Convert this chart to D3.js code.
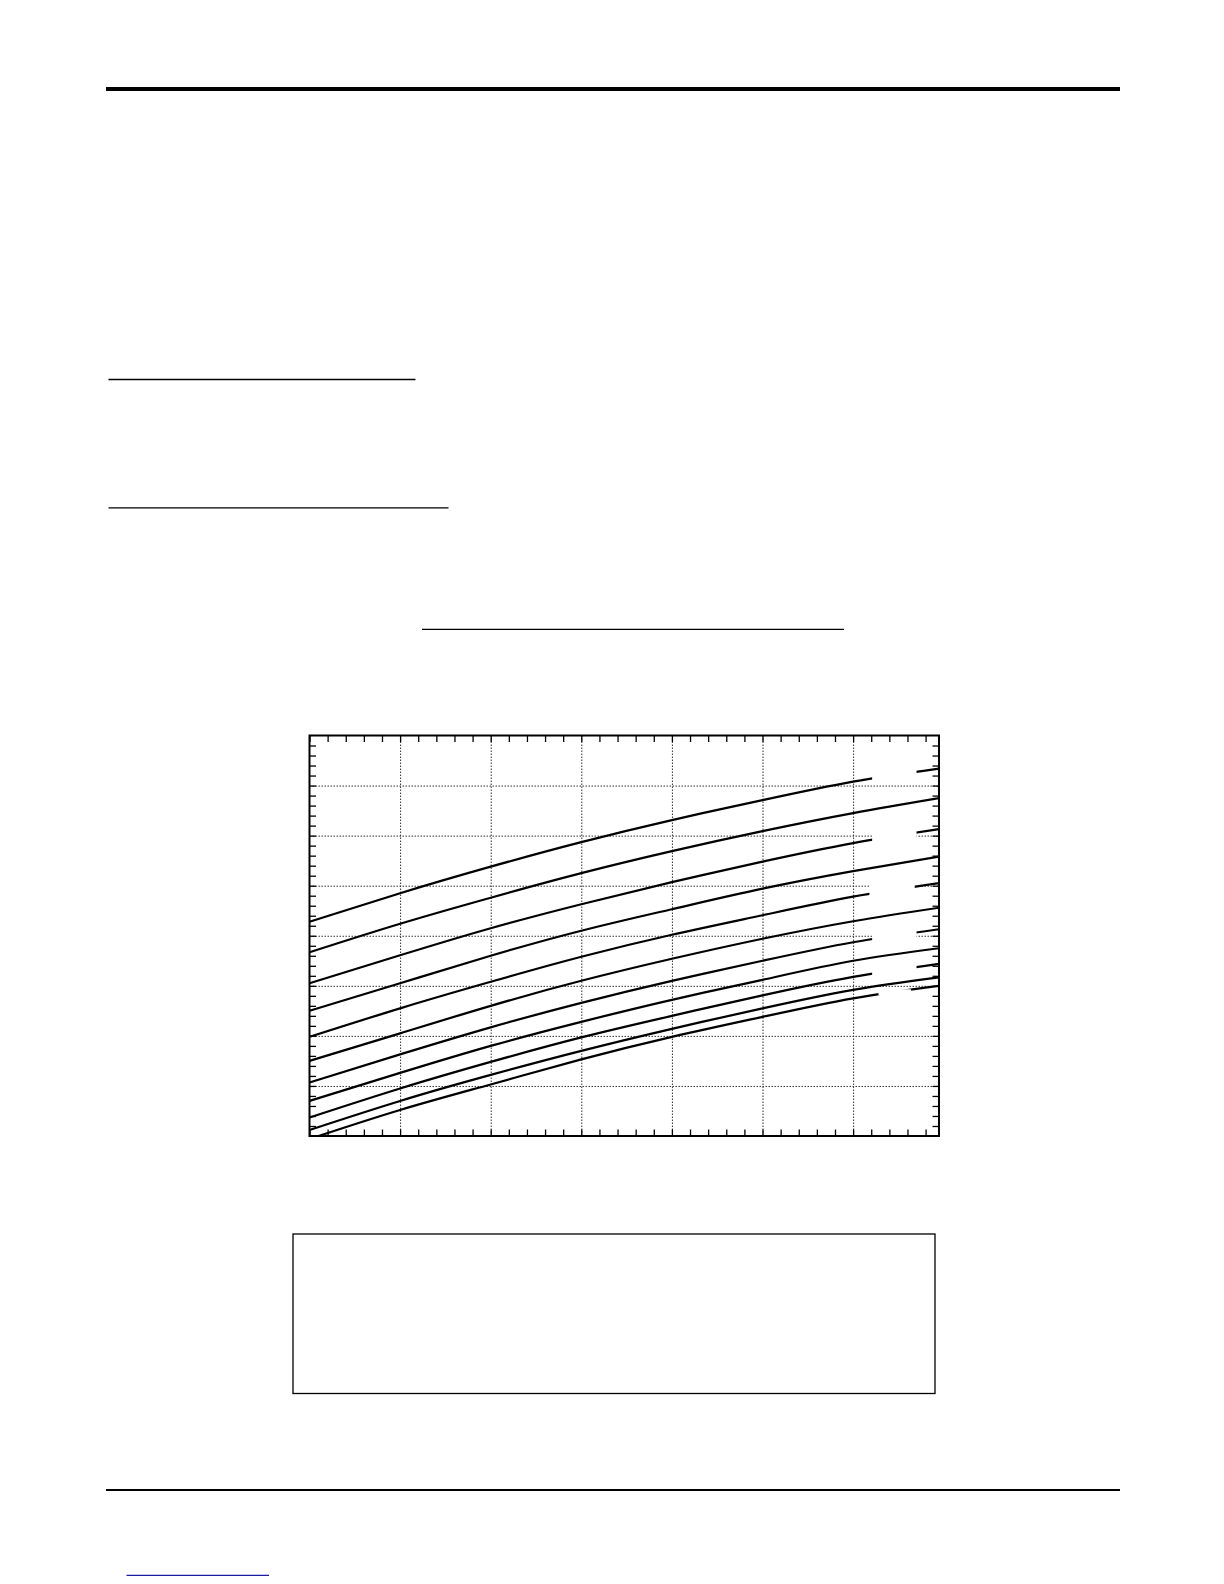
<!DOCTYPE html>
<html>
<head>
<meta charset="utf-8">
<script src="https://cdn.jsdelivr.net/npm/d3@7"></script>
<style>
  body { margin:0; background:#fff; }
  svg { display:block; }
</style>
</head>
<body>
<svg class="page"></svg>
<script>
// x positions where the curves were read
var xValues = [0, 5, 10, 15, 20, 25, 30, 34.74];

var curve1  = [42.8, 48.5, 53.8, 58.7, 63.1, 67.1, 70.8, 73.4];
var curve2  = [36.7, 42.4, 47.6, 52.5, 56.9, 60.9, 64.5, 67.5];
var curve3  = [30.5, 36.1, 41.5, 46.3, 50.7, 54.8, 58.5, 61.3];
var curve4  = [25.0, 30.5, 36.0, 41.0, 45.3, 49.4, 52.9, 55.8];
var curve5  = [19.8, 25.5, 30.8, 35.8, 40.2, 44.1, 47.8, 50.5];
var curve6  = [15.0, 20.5, 26.0, 31.0, 35.4, 39.4, 42.9, 45.6];
var curve7  = [10.7, 16.3, 21.7, 26.6, 31.0, 35.0, 38.7, 41.3];
var curve8  = [7.0, 12.6, 18.0, 22.8, 27.2, 31.2, 35.0, 37.5];
var curve9  = [3.7, 9.5, 14.8, 19.7, 24.0, 28.1, 31.8, 34.4];
var curve10 = [1.2, 7.0, 12.2, 17.0, 21.4, 25.5, 29.2, 31.7];
var curve11 = [-0.6, 5.2, 10.3, 15.3, 19.8, 23.8, 27.5, 30.0];

var curves = [curve1, curve2, curve3, curve4, curve5, curve6,
              curve7, curve8, curve9, curve10, curve11];

// label gaps on every other curve (x from / to)
var labelCurve = [0, 2, 4, 6, 8, 10];
var labelFrom  = [31.05, 31.05, 30.9, 31.05, 31.05, 31.4];
var labelTo    = [33.5, 33.5, 33.4, 33.5, 33.5, 33.2];

var xMax = 34.74;
var yMax = 80;

var makePage = function()
{
  var width = 1224;
  var height = 1584;
  var left = 309.5, right = 939, top = 735.5, bottom = 1136;

  var svg = d3.select(".page")
    .attr("width", width)
    .attr("height", height);

  // page rules and boxes
  svg.append("line")
     .attr("x1", 106).attr("x2", 1120)
     .attr("y1", 89).attr("y2", 89)
     .attr("stroke", "black").attr("stroke-width", 4);

  var underlines = [[108.5, 415.5, 379.5], [108.5, 448.5, 507.8], [422, 844, 629.3]];
  svg.selectAll("line.under")
     .data(underlines)
     .enter()
     .append("line")
     .attr("class", "under")
     .attr("x1", function(d){return d[0];})
     .attr("x2", function(d){return d[1];})
     .attr("y1", function(d){return d[2];})
     .attr("y2", function(d){return d[2];})
     .attr("stroke", "black")
     .attr("stroke-width", 1.3);

  svg.append("rect")
     .attr("x", 293).attr("y", 1234)
     .attr("width", 642).attr("height", 159.5)
     .attr("fill", "none")
     .attr("stroke", "black")
     .attr("stroke-width", 1.3);

  svg.append("line")
     .attr("x1", 106).attr("x2", 1120)
     .attr("y1", 1490).attr("y2", 1490)
     .attr("stroke", "black").attr("stroke-width", 2);

  svg.append("line")
     .attr("x1", 126.5).attr("x2", 269)
     .attr("y1", 1575.3).attr("y2", 1575.3)
     .attr("stroke", "#1c1ca0").attr("stroke-width", 1.3);

  // chart
  var x = d3.scaleLinear().domain([0, xMax]).range([left, right]);
  var y = d3.scaleLinear().domain([0, yMax]).range([bottom, top]);

  var chart = svg.append("g");

  chart.append("clipPath")
     .attr("id", "plotClip")
     .append("rect")
     .attr("x", left).attr("y", top)
     .attr("width", right - left).attr("height", bottom - top);

  // grid
  var xGrid = chart.append("g")
     .attr("transform", "translate(0," + bottom + ")")
     .call(d3.axisBottom(x).tickValues(d3.range(5, xMax, 5))
            .tickSize(-(bottom - top)).tickFormat(""));
  var yGrid = chart.append("g")
     .attr("transform", "translate(" + left + ",0)")
     .call(d3.axisLeft(y).tickValues(d3.range(10, yMax, 10))
            .tickSize(-(right - left)).tickFormat(""));
  [xGrid, yGrid].forEach(function(g){
    g.select(".domain").remove();
    g.selectAll("line")
     .attr("stroke", "#333")
     .attr("stroke-width", 1)
     .attr("stroke-dasharray", "1.5,1.5");
  });

  // curves
  var line = d3.line()
     .x(function(d,i){return x(xValues[i]);})
     .y(function(d){return y(d);})
     .curve(d3.curveNatural);

  chart.append("g")
     .attr("clip-path", "url(#plotClip)")
     .selectAll("path")
     .data(curves)
     .enter()
     .append("path")
     .attr("d", line)
     .attr("fill", "none")
     .attr("stroke", "black")
     .attr("stroke-width", 2.2);

  // white label backgrounds (text missing in the source)
  chart.selectAll("rect.lab")
     .data(labelCurve)
     .enter()
     .append("rect")
     .attr("class", "lab")
     .attr("x", function(d,i){return x(labelFrom[i]);})
     .attr("width", function(d,i){return x(labelTo[i]) - x(labelFrom[i]);})
     .attr("y", function(d,i){
        var at = d3.scaleLinear().domain(xValues).range(curves[d]);
        var h = d === 10 ? 3 : 6;
        return y(at((labelFrom[i] + labelTo[i]) / 2)) - h;
     })
     .attr("height", function(d){return d === 10 ? 6 : 12;})
     .attr("fill", "white");

  // inward ticks on all four sides
  var tick = 6.5;
  var axes = [
    chart.append("g").attr("transform", "translate(0," + bottom + ")")
      .call(d3.axisBottom(x).ticks(35).tickSize(-tick).tickFormat("")),
    chart.append("g").attr("transform", "translate(0," + top + ")")
      .call(d3.axisTop(x).ticks(35).tickSize(-tick).tickFormat("")),
    chart.append("g").attr("transform", "translate(" + left + ",0)")
      .call(d3.axisLeft(y).tickValues(d3.range(2, yMax, 2)).tickSize(-tick).tickFormat("")),
    chart.append("g").attr("transform", "translate(" + right + ",0)")
      .call(d3.axisRight(y).tickValues(d3.range(2, yMax, 2)).tickSize(-tick).tickFormat(""))
  ];
  axes.forEach(function(g){
    g.select(".domain").remove();
    g.selectAll("line").attr("stroke", "black").attr("stroke-width", 1.3);
  });

  // frame
  chart.append("rect")
     .attr("x", left).attr("y", top)
     .attr("width", right - left).attr("height", bottom - top)
     .attr("fill", "none")
     .attr("stroke", "black")
     .attr("stroke-width", 2);
}

makePage();
</script>
</body>
</html>
